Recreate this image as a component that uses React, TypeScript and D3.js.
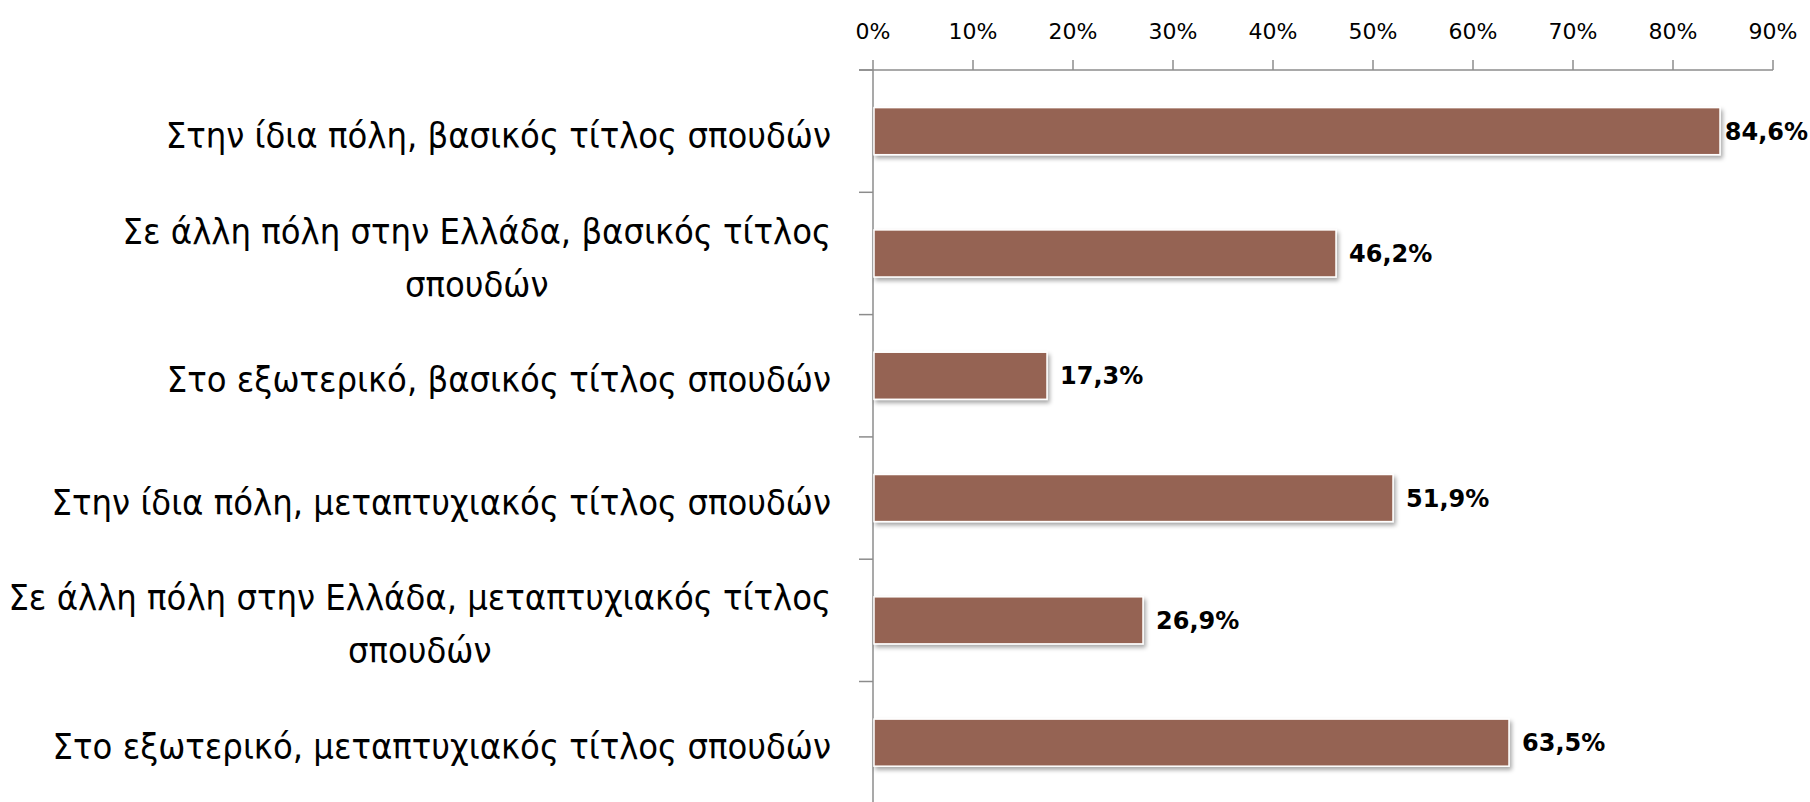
import React, { useEffect, useRef } from 'react';
import * as d3 from 'd3';

// Horizontal bar chart, percentages per study option
const categoryLines: string[][] = [
  ['Στην ίδια πόλη, βασικός τίτλος σπουδών'],
  ['Σε άλλη πόλη στην Ελλάδα, βασικός τίτλος', 'σπουδών'],
  ['Στο εξωτερικό, βασικός τίτλος σπουδών'],
  ['Στην ίδια πόλη, μεταπτυχιακός τίτλος σπουδών'],
  ['Σε άλλη πόλη στην Ελλάδα, μεταπτυχιακός τίτλος', 'σπουδών'],
  ['Στο εξωτερικό, μεταπτυχιακός τίτλος σπουδών'],
];
const values: number[] = [84.6, 46.2, 17.3, 51.9, 26.9, 63.5];
const valueLabels: string[] = ['84,6%', '46,2%', '17,3%', '51,9%', '26,9%', '63,5%'];
const tickValues: number[] = [0, 10, 20, 30, 40, 50, 60, 70, 80, 90];

const W = 1810;
const H = 802;

export default function App() {
  const ref = useRef<HTMLDivElement>(null);

  useEffect(() => {
    const el = ref.current;
    if (!el) return;
    while (el.firstChild) el.removeChild(el.firstChild);
    document.body.style.margin = '0';

    const left = 873;
    const top = 70;
    const bandH = 122.3;
    const ids = categoryLines.map((_, i) => String(i));

    const x = d3.scaleLinear().domain([0, 90]).range([left, left + 900]);
    const y = d3
      .scaleBand<string>()
      .domain(ids)
      .range([top, top + bandH * ids.length])
      .paddingInner(0.615)
      .paddingOuter(0.3075);

    const svg = d3
      .create('svg')
      .attr('width', W)
      .attr('height', H)
      .attr('viewBox', [0, 0, W, H])
      .style('display', 'block')
      .style('background', '#fff');

    const defs = svg.append('defs');
    defs
      .append('filter')
      .attr('id', 'shadow')
      .attr('x', '-5%')
      .attr('y', '-20%')
      .attr('width', '110%')
      .attr('height', '150%')
      .append('feDropShadow')
      .attr('dx', 2)
      .attr('dy', 3)
      .attr('stdDeviation', 2)
      .attr('flood-color', '#000')
      .attr('flood-opacity', 0.35);

    const axisColor = '#8c8c8c';

    // top value axis
    svg
      .append('line')
      .attr('x1', left - 14)
      .attr('x2', x(90))
      .attr('y1', top)
      .attr('y2', top)
      .attr('stroke', axisColor)
      .attr('stroke-width', 1.5);

    svg
      .selectAll('line.xtick')
      .data(tickValues)
      .join('line')
      .attr('class', 'xtick')
      .attr('x1', (d) => x(d))
      .attr('x2', (d) => x(d))
      .attr('y1', top - 10)
      .attr('y2', top)
      .attr('stroke', axisColor)
      .attr('stroke-width', 1.5);

    svg
      .selectAll('text.xlabel')
      .data(tickValues)
      .join('text')
      .attr('class', 'xlabel')
      .attr('x', (d) => x(d))
      .attr('y', 39)
      .attr('text-anchor', 'middle')
      .attr('fill', '#000')
      .style('font', '22px "DejaVu Sans", sans-serif')
      .text((d) => `${d}%`);

    // category axis
    svg
      .append('line')
      .attr('x1', left)
      .attr('x2', left)
      .attr('y1', top)
      .attr('y2', H)
      .attr('stroke', axisColor)
      .attr('stroke-width', 1.5);

    svg
      .selectAll('line.ytick')
      .data(d3.range(ids.length + 1))
      .join('line')
      .attr('class', 'ytick')
      .attr('x1', left - 14)
      .attr('x2', left)
      .attr('y1', (i) => top + i * bandH)
      .attr('y2', (i) => top + i * bandH)
      .attr('stroke', axisColor)
      .attr('stroke-width', 1.5);

    // bars
    svg
      .selectAll('rect.bar')
      .data(values)
      .join('rect')
      .attr('class', 'bar')
      .attr('x', x(0) + 1)
      .attr('y', (_, i) => y(ids[i])!)
      .attr('width', (d) => x(d) - x(0))
      .attr('height', y.bandwidth())
      .attr('fill', '#956352')
      .attr('stroke', '#fff')
      .attr('stroke-width', 1.5)
      .attr('filter', 'url(#shadow)');

    // value labels
    const valText = svg
      .selectAll('text.val')
      .data(values)
      .join('text')
      .attr('class', 'val')
      .attr('y', (_, i) => y(ids[i])! + y.bandwidth() / 2)
      .attr('dy', '0.36em')
      .attr('fill', '#000')
      .style('font', 'bold 24px "DejaVu Sans", sans-serif')
      .text((_, i) => valueLabels[i]);

    // category labels, right-aligned block with centred lines
    const labelRight = 831;
    const lineH = 53;
    const labelFont = '36px "Liberation Sans Narrow", "DejaVu Sans Condensed", sans-serif';
    const groups: SVGTextElement[][] = [];
    categoryLines.forEach((lines, i) => {
      const cy = y(ids[i])! + y.bandwidth() / 2 + 4;
      const g = svg.append('g');
      groups.push(
        lines.map((ln, j) =>
          g
            .append('text')
            .attr('y', cy + (j - (lines.length - 1) / 2) * lineH)
            .attr('dy', '0.35em')
            .attr('fill', '#000')
            .style('font', labelFont)
            .text(ln)
            .node()!
        )
      );
    });

    el.appendChild(svg.node()!);

    // now text can be measured
    groups.forEach((texts) => {
      const maxW = Math.max(...texts.map((t) => t.getComputedTextLength()));
      const centre = labelRight - maxW / 2;
      texts.forEach((t) => {
        t.setAttribute('x', String(centre));
        t.setAttribute('text-anchor', 'middle');
      });
    });

    valText.each(function (d) {
      const w = this.getComputedTextLength();
      this.setAttribute('x', String(Math.min(x(d) + 14, W - w - 2)));
    });
  }, []);

  return <div ref={ref} style={{ width: W, height: H }} />;
}
